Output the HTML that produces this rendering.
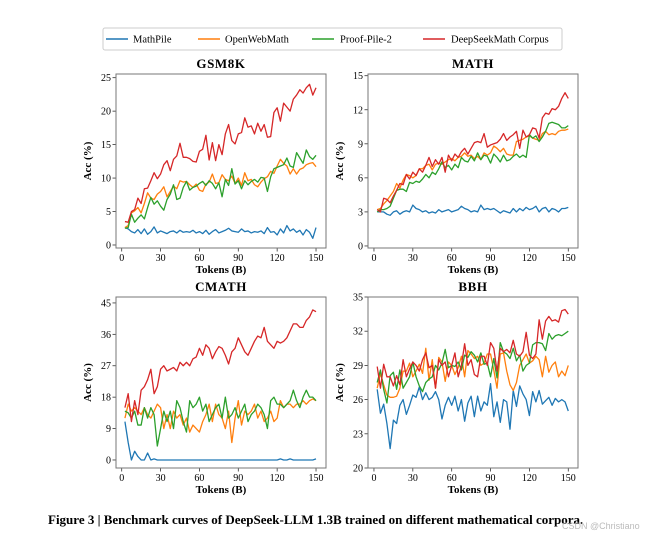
<!DOCTYPE html>
<html><head><meta charset="utf-8"><style>
body{margin:0;background:#fff;}
svg{display:block;font-family:"Liberation Serif",serif;}
</style></head><body>
<svg id="fig" width="651" height="540" viewBox="0 0 651 540">
<g>
<rect x="103" y="28" width="459" height="22" fill="#fff" stroke="#ccc" rx="2"/>
<g><line x1="106" y1="39" x2="128" y2="39" stroke="#1f77b4" stroke-width="1.5"/><text x="133" y="42.5" font-size="10.5">MathPile</text></g>
<g><line x1="198" y1="39" x2="220" y2="39" stroke="#ff7f0e" stroke-width="1.5"/><text x="225" y="42.5" font-size="10.5">OpenWebMath</text></g>
<g><line x1="312" y1="39" x2="334" y2="39" stroke="#2ca02c" stroke-width="1.5"/><text x="340" y="42.5" font-size="10.5">Proof-Pile-2</text></g>
<g><line x1="423" y1="39" x2="445" y2="39" stroke="#d62728" stroke-width="1.5"/><text x="451" y="42.5" font-size="10.5">DeepSeekMath Corpus</text></g>
</g>
<text x="48" y="524" font-size="13"><tspan font-weight="bold">Figure 3 | Benchmark curves of DeepSeek-LLM 1.3B trained on different mathematical corpora.</tspan></text>
<text x="562" y="529" font-size="9" fill="#bbb" font-family="Liberation Sans,sans-serif">CSDN @Christiano</text>
</svg>
<script>
const tokens=[2.5,5,7.5,10,12.5,15,17.5,20,22.5,25,27.5,30,32.5,35,37.5,40,42.5,45,47.5,50,52.5,55,57.5,60,62.5,65,67.5,70,72.5,75,77.5,80,82.5,85,87.5,90,92.5,95,97.5,100,102.5,105,107.5,110,112.5,115,117.5,120,122.5,125,127.5,130,132.5,135,137.5,140,142.5,145,147.5,150];
const xTicks=[0,30,60,90,120,150];
const gsmTicks=[0,5,10,15,20,25];
const mathTicks=[0,3,6,9,12,15];
const cmathTicks=[0,9,18,27,36,45];
const bbhTicks=[20,23,26,29,32,35];

const gsmRed=[3.5,3.4,5.0,5.3,7.0,6.2,8.4,8.5,9.6,10.8,9.9,10.6,12.0,12.6,11.1,12.8,13.3,15.2,13.1,13.1,12.9,12.5,12.4,14.0,14.3,16.4,12.7,15.3,12.6,15.0,13.5,16.6,18.0,15.6,15.1,16.6,16.8,19.0,17.6,17.8,16.6,18.2,17.0,18.0,16.1,16.2,19.8,20.5,18.5,21.2,20.6,20.0,21.8,22.4,23.2,22.7,23.5,24.0,22.4,23.5];
const gsmOrange=[2.6,2.9,4.8,5.1,5.6,4.8,6.2,7.8,7.0,6.8,7.6,8.0,8.7,7.2,8.0,8.8,8.4,9.6,9.4,9.5,9.0,8.6,9.1,8.2,8.0,9.1,9.4,10.6,9.2,9.3,10.5,9.8,9.6,10.3,9.2,10.0,8.9,10.8,9.6,9.8,9.0,8.7,9.4,9.9,10.2,11.0,10.7,11.8,12.8,12.2,11.8,10.6,11.4,10.6,11.3,11.5,12.0,12.2,12.3,11.7];
const gsmGreen=[2.5,2.6,4.6,3.4,4.0,4.5,3.9,5.6,7.1,6.1,6.6,5.8,5.2,6.8,7.6,9.0,6.8,7.0,8.6,9.5,8.2,8.6,8.8,9.2,9.5,8.9,9.6,9.2,8.4,9.3,7.2,9.8,8.9,11.4,9.1,9.6,8.4,9.6,9.0,9.5,9.8,9.4,10.1,10.0,8.0,10.2,11.4,11.6,11.8,12.0,13.0,11.8,11.6,13.8,13.0,12.2,14.2,13.2,12.8,13.4];
const gsmBlue=[2.6,2.4,2.0,1.8,2.3,1.7,2.4,1.6,2.0,2.7,1.8,2.1,1.9,1.7,2.0,2.1,1.8,2.2,1.9,2.0,1.9,2.2,1.8,2.0,1.7,2.2,1.6,2.0,2.3,1.8,2.0,2.2,2.5,2.1,2.0,1.9,2.4,2.0,2.1,1.8,2.0,1.9,2.1,1.7,2.6,1.9,2.0,1.5,2.4,1.8,2.9,2.1,2.4,1.9,2.2,1.5,2.3,1.9,1.0,2.6];

const mathRed=[3.2,3.0,4.2,4.1,3.8,4.4,4.9,5.5,5.4,6.3,5.9,6.5,6.2,6.8,6.5,7.1,7.8,7.0,7.6,7.2,7.8,6.5,8.0,7.5,8.1,7.8,8.3,8.6,8.1,8.6,9.1,9.2,9.1,9.9,8.7,8.9,9.0,9.1,9.4,9.9,9.3,9.6,9.8,10.1,8.6,10.2,9.6,9.8,10.4,10.3,9.5,11.3,11.7,11.6,12.1,12.0,12.3,13.0,13.5,13.0];
const mathOrange=[3.2,3.3,3.7,4.0,4.4,4.8,5.5,5.1,5.8,6.3,6.2,6.0,6.2,6.8,6.8,7.1,7.2,6.7,7.2,7.3,7.2,7.4,7.6,7.7,7.5,7.8,7.9,8.2,7.9,8.0,7.7,7.9,7.6,8.2,8.0,8.2,8.8,8.6,8.3,8.6,8.1,8.0,8.0,9.2,9.3,9.4,9.6,9.7,9.5,9.4,9.3,9.9,10.1,9.8,9.9,9.8,10.1,10.2,10.2,10.3];
const mathGreen=[3.0,3.2,3.2,3.3,3.5,4.2,4.9,5.0,5.0,4.8,5.6,5.5,5.7,5.6,5.9,6.3,6.0,6.5,6.3,6.8,7.4,6.9,7.1,6.7,7.2,6.9,7.8,7.5,7.4,7.9,7.5,8.2,7.6,8.0,7.9,7.3,8.1,7.8,7.4,8.0,7.5,7.6,7.9,8.1,7.8,8.0,7.8,9.8,9.5,9.7,9.2,9.6,10.1,10.8,10.9,10.8,10.7,10.4,10.4,10.6];
const mathBlue=[3.0,3.0,3.0,2.8,2.7,3.0,3.1,2.8,3.0,3.1,3.0,3.6,3.3,3.2,3.0,3.1,2.9,3.0,2.9,3.2,3.0,3.1,3.2,3.0,3.1,3.2,3.5,3.3,3.2,3.0,3.1,3.0,3.6,3.2,3.3,3.2,3.3,3.1,2.9,3.1,3.0,2.9,3.3,3.0,3.3,3.1,3.4,3.2,3.3,3.5,3.0,3.3,3.4,3.0,3.3,3.2,3.0,3.3,3.3,3.4];

const cmathRed=[15,19,11,17,13,20,21,23,26,19,21,26,27,25.5,26,26.5,25.5,28,27,28,27,29,29.5,32,30,33,32,29,31,32.5,32,30,27.5,31,32,35,33,31,30,32,34,35.5,35,38,34,33,32,34,33.5,34,35,37,39,39,38,38,40,41,43,42.5];
const cmathOrange=[12,16,14,15,14,13,15,13,12,14,16,15,9,13,9,14,12,13,10,12,8,10,9,8,11,13,16,11,16,13,12,9,14,5,12,17,10,14,13,14,16,12,14,11,12,14,11,12,17,15,16,16,15,16,16,17,16,17,17.5,17];
const cmathGreen=[14,13.5,12,14,10,10,15,12,15,13,4,9,14,11,14,9,17,15,11,8,17,15,16,18,14,16,11,13,15,16,12,18,12,13,15,12,14,16,11,13,14,16,15,13,9,17,18,16,16,15,16,17,20,17,15,18,20,18,18,17];
const cmathBlue=[11,5,0,2.5,1,0,0,2,0,0.3,0,0,0,0,0,0,0,0,0,0,0,0,0,0,0,0,0,0,0,0,0,0,0,0,0,0,0,0,0,0,0,0,0,0,0,0,0,0,0.3,0,0,0.3,0,0,0,0,0,0,0,0.3];

const bbhRed=[28.9,27.0,29.1,28.0,28.0,27.2,28.1,27.3,29.5,28.0,28.7,29.3,29.0,28.5,29.5,30.1,28.8,29.0,27.0,29.5,29.0,29.3,28.0,29.0,30.1,28.0,29.0,30.9,29.0,29.5,28.2,28.0,29.8,29.8,29.0,31.0,30.5,28.5,30.5,30.2,30.4,30.1,31.2,30.0,29.8,30.2,31.9,29.9,29.6,30.0,33.0,31.3,32.9,33.3,32.9,33.0,32.8,33.8,33.9,33.5];
const bbhOrange=[27.0,28.3,27.3,26.4,26.2,26.2,26.3,27.0,28.5,28.5,29.2,28.0,28.5,29.1,28.3,30.5,27.7,29.5,27.0,29.7,29.3,27.6,29.3,29.0,28.2,28.8,29.8,28.0,30.3,30.0,29.6,29.8,29.0,29.2,30.0,30.0,28.6,27.0,30.0,30.1,28.5,27.3,26.8,27.5,29.0,29.5,30.0,29.2,29.4,29.8,29.5,28.0,29.8,28.4,29.0,29.3,28.0,28.5,28.1,29.0];
const bbhGreen=[27.5,28.6,26.9,25.7,28.1,28.4,26.9,28.6,27.0,27.5,28.0,29.3,28.0,27.2,26.7,27.5,27.8,28.0,29.0,28.6,29.2,30.4,28.8,29.0,28.9,29.3,28.6,29.9,29.7,30.2,29.9,29.3,30.1,29.1,29.2,28.0,29.6,27.9,31.0,30.2,30.0,29.6,30.5,29.4,29.9,28.5,29.0,29.2,30.8,31.0,31.0,30.9,30.3,31.8,31.3,31.6,31.7,31.6,31.8,32.0];
const bbhBlue=[26.9,24.8,25.6,23.9,21.7,24.2,23.9,25.5,26.0,24.7,25.5,26.4,26.2,27.1,26.0,26.6,26.0,26.2,26.7,26.0,24.3,25.5,26.2,25.5,26.3,25.0,26.0,24.1,25.7,26.3,24.5,26.3,25.0,25.8,25.5,27.4,24.5,25.8,24.0,26.0,25.8,23.4,26.8,25.4,27.2,26.5,26.0,24.6,26.7,25.8,26.8,25.6,25.9,26.2,25.5,26.1,25.8,26.0,25.8,25.0];

const NS='http://www.w3.org/2000/svg';
const svg=document.getElementById('fig');
function mk(tag,attrs,parent){const e=document.createElementNS(NS,tag);for(const k in attrs)e.setAttribute(k,attrs[k]);parent.appendChild(e);return e;}

const panels=[
 {id:'gsm8k',title:'GSM8K',L:116,R:326,T:74,B:248,xmin:-4.4,xmax:157.7,ymin:-0.45,ymax:25.55,yt:gsmTicks,s:[gsmBlue,gsmOrange,gsmGreen,gsmRed]},
 {id:'math',title:'MATH',L:368,R:578,T:74,B:248,xmin:-4.6,xmax:157.5,ymin:-0.18,ymax:15.15,yt:mathTicks,s:[mathBlue,mathOrange,mathGreen,mathRed]},
 {id:'cmath',title:'CMATH',L:116,R:326,T:297,B:468,xmin:-4.4,xmax:157.7,ymin:-2.3,ymax:46.7,yt:cmathTicks,s:[cmathBlue,cmathOrange,cmathGreen,cmathRed]},
 {id:'bbh',title:'BBH',L:368,R:578,T:297,B:468,xmin:-4.6,xmax:157.5,ymin:20,ymax:35,yt:bbhTicks,s:[bbhBlue,bbhOrange,bbhGreen,bbhRed]}
];
const colors=['#1f77b4','#ff7f0e','#2ca02c','#d62728'];
const snames=['mathpile','openwebmath','proof-pile-2','deepseekmath-corpus'];

panels.forEach(p=>{
 const g=mk('g',{},svg);
 
 
 const xs=v=>p.L+(v-p.xmin)/(p.xmax-p.xmin)*(p.R-p.L);
 const ys=v=>p.B-(v-p.ymin)/(p.ymax-p.ymin)*(p.B-p.T);
 const t=mk('text',{x:(p.L+p.R)/2,y:p.T-6,'text-anchor':'middle','font-size':'13','font-weight':'bold','letter-spacing':'0.6'},g);
 t.textContent=p.title;
 
 
 xTicks.forEach(v=>{
  mk('line',{x1:xs(v),x2:xs(v),y1:p.B,y2:p.B+3.5,stroke:'#333','stroke-width':0.8},g);
  const l=mk('text',{x:xs(v),y:p.B+13,'text-anchor':'middle','font-size':'10'},g);
  l.textContent=v;
  
  
 });
 p.yt.forEach(v=>{
  mk('line',{x1:p.L-3.5,x2:p.L,y1:ys(v),y2:ys(v),stroke:'#333','stroke-width':0.8},g);
  const l=mk('text',{x:p.L-5,y:ys(v)+3.5,'text-anchor':'end','font-size':'10'},g);
  l.textContent=v;
  
  
 });
 const xl=mk('text',{x:(p.L+p.R)/2,y:p.B+25,'text-anchor':'middle','font-size':'11','font-weight':'bold'},g);
 xl.textContent='Tokens (B)';
 
 
 const cy=(p.T+p.B)/2, cx=p.L-25;
 const yl=mk('text',{x:cx,y:cy,'text-anchor':'middle','font-size':'11','font-weight':'bold',transform:`rotate(-90 ${cx} ${cy})`},g);
 yl.textContent='Acc (%)';
 
 
 p.s.forEach((arr,i)=>{
  const d=arr.map((v,j)=>(j?'L':'M')+xs(tokens[j]).toFixed(2)+' '+ys(v).toFixed(2)).join(' ');
  const path=mk('path',{d:d,fill:'none',stroke:colors[i],'stroke-width':1.3,'stroke-linejoin':'round'},g);
  
  
 });
 const fr=mk('rect',{x:p.L,y:p.T,width:p.R-p.L,height:p.B-p.T,fill:'none',stroke:'#777','stroke-width':1},g);
 
 
});
</script>
</body></html>
